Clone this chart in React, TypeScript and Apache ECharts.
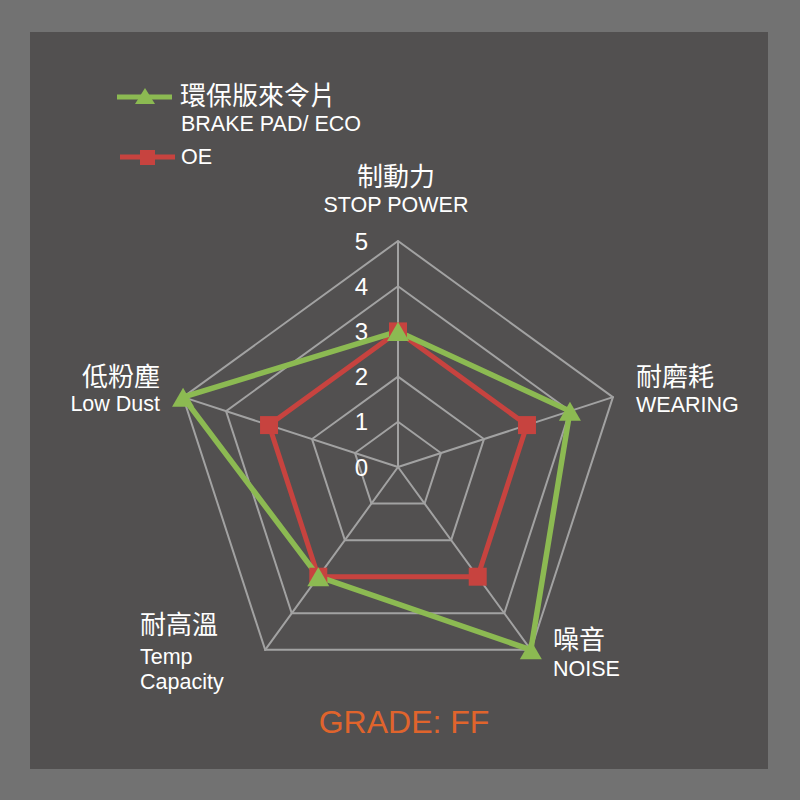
import React, { useEffect, useRef } from 'react';
import * as echarts from 'echarts';

// ---- data ----
// ECharts radar places indicators counter-clockwise from the top
const indicatorZh = ['制動力', '低粉塵', '耐高溫', '噪音', '耐磨耗'];
const indicatorEn = ['STOP POWER', 'Low Dust', 'Temp\nCapacity', 'NOISE', 'WEARING'];
const maxValue = 5;
const tickLabels = ['0', '1', '2', '3', '4', '5'];
const ecoName = '環保版來令片';
const ecoSubName = 'BRAKE PAD/ ECO';
const oeName = 'OE';
const ecoValues = [3, 5, 3, 5, 4];
const oeValues = [3, 3, 3, 3, 3];
const gradeText = 'GRADE: FF';

const FONT = "'Liberation Sans', Arial, 'Noto Sans CJK TC', sans-serif";
const GREEN = '#8cba52';
const RED = '#c7433f';
const GRID = '#a2a2a2';

// layout for the indicator name labels: [x, yZh, yEn, align]
const nameLayout: [number, number, number, string][] = [
  [396, 177, 205, 'center'],
  [160, 377, 404, 'right'],
  [140, 625, 657, 'left'],
  [553, 640, 669, 'left'],
  [636, 377, 405, 'left'],
];

export default function App() {
  const ref = useRef<HTMLDivElement>(null);
  useEffect(() => {
    if (!ref.current) return;
    const chart = echarts.init(ref.current, undefined, { renderer: 'svg' });

    const nameTexts: any[] = [];
    indicatorZh.forEach((zh, i) => {
      const [x, yz, ye, align] = nameLayout[i];
      nameTexts.push({
        type: 'text', x, y: yz, z: 20,
        style: { text: zh, fill: '#fff', font: `26px ${FONT}`, textAlign: align, textVerticalAlign: 'middle' },
      });
      const lines = indicatorEn[i].split('\n');
      lines.forEach((ln, k) => {
        nameTexts.push({
          type: 'text', x, y: ye + k * 25, z: 20,
          style: { text: ln, fill: '#fff', font: `21.5px ${FONT}`, textAlign: align, textVerticalAlign: 'middle' },
        });
      });
    });

    const option: any = {
      animation: false,
      backgroundColor: '#727272',
      graphic: [
        { type: 'rect', z: -10, shape: { x: 30, y: 32, width: 738, height: 737 }, style: { fill: '#525050' } },
        // legend
        { type: 'line', z: 20, shape: { x1: 117, y1: 97, x2: 172, y2: 97 }, style: { stroke: GREEN, lineWidth: 5 } },
        { type: 'polygon', z: 21, shape: { points: [[145, 88], [155, 104], [135, 104]] }, style: { fill: GREEN } },
        { type: 'text', z: 20, x: 180, y: 96, style: { text: ecoName, fill: '#fff', font: `26px ${FONT}`, textVerticalAlign: 'middle' } },
        { type: 'text', z: 20, x: 181, y: 124, style: { text: ecoSubName, fill: '#fff', font: `21.5px ${FONT}`, textVerticalAlign: 'middle' } },
        { type: 'line', z: 20, shape: { x1: 120, y1: 157, x2: 175, y2: 157 }, style: { stroke: RED, lineWidth: 5 } },
        { type: 'rect', z: 21, shape: { x: 140, y: 150, width: 15, height: 15 }, style: { fill: RED } },
        { type: 'text', z: 20, x: 181, y: 157, style: { text: oeName, fill: '#fff', font: `21.5px ${FONT}`, textVerticalAlign: 'middle' } },
        // grade
        { type: 'text', z: 20, x: 404, y: 722, style: { text: gradeText, fill: '#e0642c', font: `32px ${FONT}`, textAlign: 'center', textVerticalAlign: 'middle' } },
        ...nameTexts,
      ],
      radar: {
        center: [398, 467],
        radius: 226,
        startAngle: 90,
        shape: 'polygon',
        splitNumber: 5,
        indicator: indicatorZh.map((n, i) => ({ name: n, min: 0, max: maxValue, axisLabel: { show: i === 0 } })),
        axisName: { show: false },
        axisLine: { lineStyle: { color: GRID, width: 2 } },
        splitLine: { lineStyle: { color: GRID, width: 2 } },
        splitArea: { show: false },
        axisTick: { show: false },
        axisLabel: {
          show: true,
          color: '#fff',
          fontSize: 24,
          fontFamily: FONT,
          margin: 30,
          formatter: (v: number) => tickLabels[Math.round(v)] ?? String(v),
        },
      },
      series: [
        {
          type: 'radar',
          z: 5,
          data: [
            {
              name: oeName,
              value: oeValues,
              symbol: 'rect',
              symbolSize: 18,
              lineStyle: { color: RED, width: 5 },
              itemStyle: { color: RED },
            },
            {
              name: ecoName,
              value: ecoValues,
              symbol: 'triangle',
              symbolSize: [22, 19],
              lineStyle: { color: GREEN, width: 5.5 },
              itemStyle: { color: GREEN },
            },
          ],
        },
      ],
    };
    chart.setOption(option);
    return () => chart.dispose();
  }, []);
  return <div ref={ref} style={{ position: 'fixed', left: 0, top: 0, width: 800, height: 800 }} />;
}
